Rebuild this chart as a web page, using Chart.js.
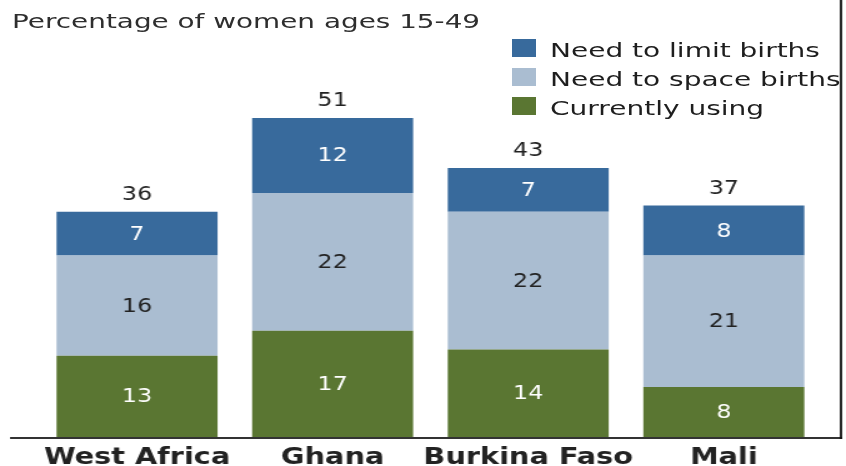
<!DOCTYPE html>
<html><head><meta charset="utf-8">
<script src="https://cdn.jsdelivr.net/npm/chart.js@4.4.0/dist/chart.umd.min.js"></script>
<style>
html,body{margin:0;padding:0;background:#fff;overflow:hidden}
#wrap{position:relative;width:846px;height:466px;overflow:hidden}
#stretch{position:absolute;left:0;top:0;width:677px;height:466px;transform-origin:0 0;transform:scaleX(1.2496)}
.txt{position:absolute;white-space:nowrap;transform-origin:0 0;font-family:"DejaVu Sans",Verdana,sans-serif}
.title{left:12px;top:11px;font-size:20px;line-height:20px;color:#2e2e2e}
.box{position:absolute;left:512px;width:24px;height:18px}
.ltxt{left:550px;font-size:20px;line-height:20px;color:#1e1e1e}
</style>
</head><body>
<div id="wrap">
<div id="stretch"><canvas id="c" width="677" height="466" style="width:677px;height:466px"></canvas></div>
<div class="txt title" id="title">Percentage of women ages 15-49</div>
<div id="legend"></div>
</div>
<script>
const categories = ["West Africa", "Ghana", "Burkina Faso", "Mali"];
const currentlyUsing = [13, 17, 14, 8];
const needToSpace = [16, 22, 22, 21];
const needToLimit = [7, 12, 7, 8];
const seriesNames = ["Currently using", "Need to space births", "Need to limit births"];
const seriesColors = ["#5a7632", "#aabdd1", "#386a9c"];
const labelColors = ["#ffffff", "#222222", "#ffffff"];

// Legend (HTML)
const legend = document.getElementById('legend');
const legendOrder = [2, 1, 0];
legendOrder.forEach((si, row) => {
  const top = 39 + row * 29;
  const b = document.createElement('div');
  b.className = 'box';
  b.style.top = top + 'px';
  b.style.background = seriesColors[si];
  legend.appendChild(b);
  const t = document.createElement('div');
  t.className = 'txt ltxt';
  t.style.top = (top + 1) + 'px';
  t.style.transform = 'scaleX(1.4)';
  t.textContent = seriesNames[si];
  legend.appendChild(t);
});
const title = document.getElementById('title');
title.style.transform = 'scaleX(' + (468 / title.offsetWidth) + ')';

const seriesData = [currentlyUsing, needToSpace, needToLimit];

const labelPlugin = {
  id: 'segLabels',
  afterDatasetsDraw(chart) {
    const ctx = chart.ctx;
    ctx.save();
    ctx.textAlign = 'center';
    ctx.textBaseline = 'middle';
    ctx.font = '19px "DejaVu Sans"';
    chart.data.datasets.forEach((ds, di) => {
      const meta = chart.getDatasetMeta(di);
      meta.data.forEach((bar, i) => {
        const p = bar.getProps(['x', 'y', 'base'], true);
        ctx.fillStyle = labelColors[di];
        ctx.fillText(String(ds.data[i]), p.x, (p.y + p.base) / 2 + 1);
      });
    });
    const topMeta = chart.getDatasetMeta(chart.data.datasets.length - 1);
    topMeta.data.forEach((bar, i) => {
      const total = seriesData.reduce((s, arr) => s + arr[i], 0);
      ctx.fillStyle = '#222';
      ctx.fillText(String(total), bar.x, bar.y - 17);
    });
    ctx.restore();
  },
  afterDraw(chart) {
    const ctx = chart.ctx;
    const xs = chart.scales.x;
    ctx.save();
    ctx.strokeStyle = '#333';
    ctx.lineWidth = 2;
    ctx.beginPath();
    ctx.moveTo(8, xs.top + 1);
    ctx.lineTo(674, xs.top + 1);
    ctx.stroke();
    ctx.strokeStyle = '#111';
    ctx.lineWidth = 1.8;
    ctx.beginPath();
    ctx.moveTo(673, 0);
    ctx.lineTo(673, xs.top + 2);
    ctx.stroke();
    ctx.restore();
  }
};

new Chart(document.getElementById('c'), {
  type: 'bar',
  data: {
    labels: categories,
    datasets: seriesData.map((d, i) => ({
      label: seriesNames[i],
      data: d,
      backgroundColor: seriesColors[i],
      borderWidth: 0,
      barPercentage: 0.823,
      categoryPercentage: 1.0
    }))
  },
  options: {
    responsive: false,
    animation: false,
    devicePixelRatio: 1,
    layout: { padding: { top: 61.7, left: 31.4, right: 19.5, bottom: 0 } },
    plugins: { legend: { display: false }, tooltip: { enabled: false }, title: { display: false } },
    scales: {
      x: {
        stacked: true,
        grid: { display: false, drawTicks: false },
        border: { display: false },
        afterFit(scale) { scale.height = 29; },
        ticks: {
          color: '#222',
          padding: 10,
          maxRotation: 0,
          minRotation: 0,
          autoSkip: false,
          font: { family: '"DejaVu Sans"', size: 23, weight: 'bold', lineHeight: 1.0 }
        }
      },
      y: {
        stacked: true,
        display: false,
        min: 0,
        max: 60
      }
    }
  },
  plugins: [labelPlugin]
});
</script>
</body></html>
